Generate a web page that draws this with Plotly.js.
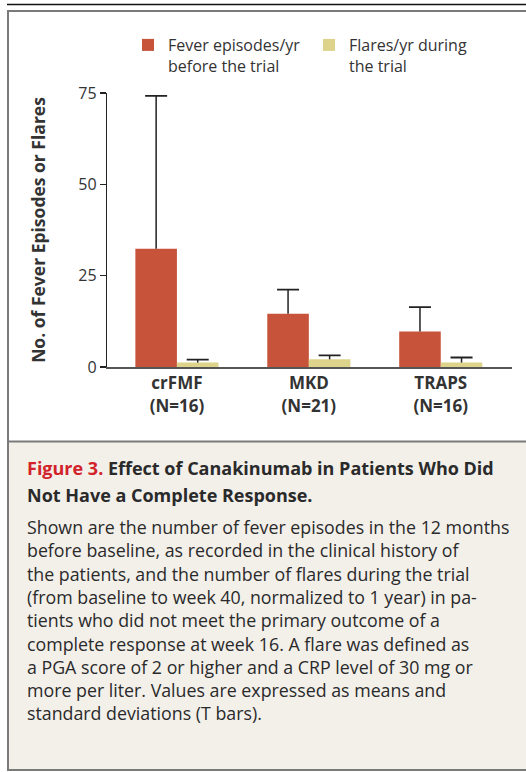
<!DOCTYPE html>
<html>
<head>
<meta charset="utf-8">
<script src="https://cdn.plot.ly/plotly-3.0.1.min.js"></script>
<style>
html,body{margin:0;padding:0;background:#fff;}
#chart{width:526px;height:772px;}
</style>
</head>
<body>
<div id="chart"></div>
<script>
// ---- data ----
const categories = ["crFMF", "MKD", "TRAPS"];
const groupSizes = ["N=16", "N=21", "N=16"];
const feverBefore = [32.4, 14.6, 9.7];
const feverBeforeSD = [41.8, 6.6, 6.7];
const flaresDuring = [1.2, 2.1, 1.2];
const flaresDuringSD = [0.8, 1.1, 1.4];
const yTicks = [0, 25, 50, 75];
const seriesNames = ["Fever episodes/yr<br>before the trial", "Flares/yr during<br>the trial"];

const captionTitleRed = "Figure 3.";
const captionTitle = ["Effect of Canakinumab in Patients Who Did", "Not Have a Complete Response."];
const captionBody = [
  "Shown are the number of fever episodes in the 12 months",
  "before baseline, as recorded in the clinical history of",
  "the patients, and the number of flares during the trial",
  "(from baseline to week 40, normalized to 1 year) in pa-",
  "tients who did not meet the primary outcome of a",
  "complete response at week 16. A flare was defined as",
  "a PGA score of 2 or higher and a CRP level of 30 mg or",
  "more per liter. Values are expressed as means and",
  "standard deviations (T bars)."
];

// ---- layout geometry ----
const W = 526, H = 772;
const M = {l: 107, r: 14, t: 93, b: 405};
const PW = W - M.l - M.r, PH = H - M.t - M.b;
const px = x => (x - M.l) / PW;
const py = y => (H - M.b - y) / PH;

const FONT = "'Open Sans', Lato, sans-serif";
const RED = "#c6533a", YEL = "#ddd38a";

const zeros = categories.map(() => 0);
const tops = (m, s) => m.map((v, i) => v + s[i]);
const stem = arr => ({type: "data", symmetric: false, array: arr, arrayminus: zeros,
                      color: "#222", thickness: 1.5, width: 0});
const cap = {type: "data", symmetric: false, array: zeros, arrayminus: zeros,
             color: "#222", thickness: 1.8, width: 11};

const traces = [
  {type: "bar", name: seriesNames[0], x: categories, y: feverBefore, offsetgroup: "a",
   marker: {color: RED}, error_y: stem(feverBeforeSD)},
  {type: "bar", name: seriesNames[1], x: categories, y: flaresDuring, offsetgroup: "b",
   marker: {color: YEL}, error_y: stem(flaresDuringSD)},
  // T-bar caps at mean + SD (transparent bars sharing the same offset group)
  {type: "bar", x: categories, y: tops(feverBefore, feverBeforeSD), offsetgroup: "a",
   marker: {color: "rgba(0,0,0,0)"}, showlegend: false, hoverinfo: "skip", error_y: cap},
  {type: "bar", x: categories, y: tops(flaresDuring, flaresDuringSD), offsetgroup: "b",
   marker: {color: "rgba(0,0,0,0)"}, showlegend: false, hoverinfo: "skip", error_y: cap}
];

const annotations = [];
const titleLines = [
  "<span style='color:#d2232a'>" + captionTitleRed + "</span> " + captionTitle[0],
  captionTitle[1]
];
titleLines.forEach((t, i) => annotations.push({
  xref: "paper", yref: "paper", x: px(25), y: py(468 + 27 * i), xanchor: "left", yanchor: "middle",
  showarrow: false, align: "left", text: "<b>" + t + "</b>",
  font: {family: FONT, size: 18, color: "#2a2a2a"}
}));
captionBody.forEach((t, i) => annotations.push({
  xref: "paper", yref: "paper", x: px(25), y: py(527 + 23.3 * i), xanchor: "left", yanchor: "middle",
  showarrow: false, align: "left", text: t,
  font: {family: FONT, size: 17.8, color: "#2a2a2a"}
}));

const shapes = [
  {type: "line", xref: "paper", yref: "paper", x0: px(7), x1: px(530), y0: py(4.5), y1: py(4.5),
   line: {color: "#111", width: 1.6}, layer: "above"},
  {type: "rect", xref: "paper", yref: "paper", x0: px(8), x1: px(540), y0: py(441.5), y1: py(770),
   fillcolor: "#f3f0ea", line: {color: "#7a7a7a", width: 2}, layer: "below"},
  {type: "rect", xref: "paper", yref: "paper", x0: px(8), x1: px(540), y0: py(11), y1: py(770),
   fillcolor: "rgba(0,0,0,0)", line: {color: "#7a7a7a", width: 2}, layer: "above"}
];

const layout = {
  width: W, height: H,
  margin: M,
  paper_bgcolor: "#fff", plot_bgcolor: "rgba(0,0,0,0)",
  font: {family: FONT, color: "#333"},
  barmode: "group", bargap: 0.37, bargroupgap: 0,
  showlegend: true,
  legend: {
    orientation: "h",
    x: px(128), y: py(28), xanchor: "left", yanchor: "top",
    font: {family: FONT, size: 16, color: "#333"},
    valign: "top", entrywidth: 136, entrywidthmode: "pixels",
    bgcolor: "rgba(0,0,0,0)", traceorder: "normal"
  },
  xaxis: {
    range: [-0.53, 2.54], showgrid: false, zeroline: false,
    showline: true, linecolor: "#555", linewidth: 2,
    ticks: "", tickmode: "array", tickvals: categories,
    ticktext: categories.map((c, i) => "<b>" + c + "</b><br><b>(" + groupSizes[i] + ")</b>"),
    tickfont: {family: FONT, size: 17, color: "#333"}
  },
  yaxis: {
    range: [0, 75], showgrid: false, zeroline: false,
    showline: true, linecolor: "#222", linewidth: 1.2,
    ticks: "outside", ticklen: 6, tickwidth: 1.2, tickcolor: "#222",
    tickmode: "array", tickvals: yTicks,
    tickfont: {family: FONT, size: 16, color: "#333"},
    title: {text: "<b>No. of Fever Episodes or Flares</b>", standoff: 28,
            font: {family: FONT, size: 17.5, color: "#333"}}
  },
  shapes: shapes,
  annotations: annotations
};

Plotly.newPlot("chart", traces, layout, {displayModeBar: false, staticPlot: true});
</script>
</body>
</html>
